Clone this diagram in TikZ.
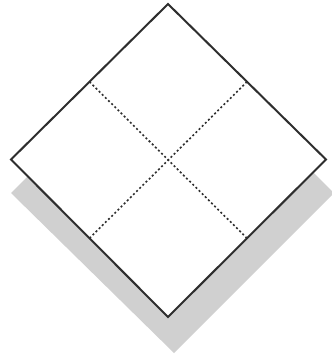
\documentclass[tikz,border=0pt]{standalone}
\usetikzlibrary{calc}
\definecolor{shadowgray}{HTML}{D0D0D0}
\definecolor{edgegray}{HTML}{2E2E2E}
\tikzset{
  shadowfill/.style={fill=shadowgray, draw=none},
  sheet/.style={fill=white, draw=edgegray, line width=2pt, line join=miter},
  fold/.style={draw=edgegray, line width=1.6pt, dash pattern=on 2pt off 2.4pt}
}
\begin{document}
\begin{tikzpicture}[x=1pt,y=-1pt]
\useasboundingbox (0,0) rectangle (332,357);
% shadow
\coordinate (sT) at (173,32);
\coordinate (sR) at (334,193);
\coordinate (sB) at (174,353);
\coordinate (sL) at (11,193);
\begin{scope}
\clip (0,0) rectangle (332,357);
\fill[shadowfill] (sT) -- (sR) -- (sB) -- (sL) -- cycle;
\end{scope}
% sheet
\coordinate (T) at (168,4);
\coordinate (R) at (326,159.5);
\coordinate (B) at (168,317);
\coordinate (L) at (11,159.5);
\draw[sheet] (T) -- (R) -- (B) -- (L) -- cycle;
% fold lines
\coordinate (mTL) at ($(T)!0.5!(L)$);
\coordinate (mTR) at ($(T)!0.5!(R)$);
\coordinate (mBL) at ($(B)!0.5!(L)$);
\coordinate (mBR) at ($(B)!0.5!(R)$);
\draw[fold] (mTL) -- (mBR);
\draw[fold] (mTR) -- (mBL);
\end{tikzpicture}
\end{document}
